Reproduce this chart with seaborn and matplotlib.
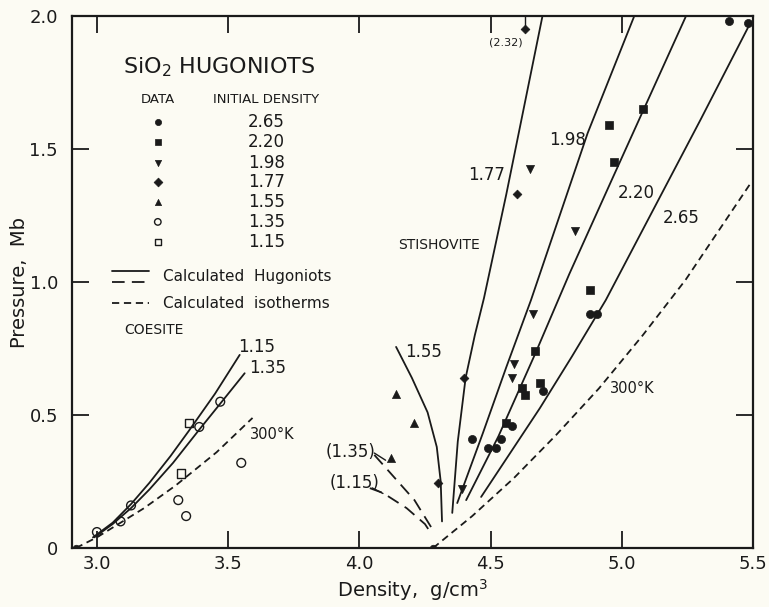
# =========================================
# SiO2 HUGONIOTS - PRESSURE VS DENSITY
# =========================================

import numpy as np
import matplotlib
matplotlib.use("Agg")
import matplotlib.pyplot as plt
import seaborn as sns


# =========================================
# DATA
# =========================================

# measured Hugoniot points, by initial density
rho_265 = [5.41, 5.48, 4.88, 4.905, 4.43, 4.49, 4.52, 4.54, 4.70, 4.58]
p_265 = [1.98, 1.975, 0.88, 0.88, 0.41, 0.375, 0.375, 0.41, 0.59, 0.46]

rho_220 = [5.08, 4.95, 4.97, 4.88, 4.67, 4.62, 4.63, 4.69, 4.56]
p_220 = [1.65, 1.59, 1.45, 0.97, 0.74, 0.60, 0.575, 0.62, 0.47]

rho_198 = [4.65, 4.82, 4.66, 4.59, 4.58, 4.39]
p_198 = [1.425, 1.19, 0.88, 0.69, 0.64, 0.22]

rho_177 = [4.63, 4.60, 4.40, 4.30]
p_177 = [1.95, 1.33, 0.64, 0.245]

rho_155 = [4.14, 4.21, 4.12]
p_155 = [0.58, 0.47, 0.34]

rho_135 = [3.47, 3.39, 3.55, 3.31, 3.34, 3.09, 3.13, 3.0]
p_135 = [0.55, 0.455, 0.32, 0.18, 0.12, 0.10, 0.16, 0.06]

rho_115 = [3.35, 3.32]
p_115 = [0.47, 0.28]

# zero pressure densities
rho_zero = [2.92, 4.28]
p_zero = [0.0, 0.0]

# calculated Hugoniots - coesite
coe_115_rho = [2.985, 3.06, 3.13, 3.20, 3.28, 3.35, 3.45, 3.544]
coe_115_p = [0.04, 0.095, 0.165, 0.245, 0.345, 0.44, 0.58, 0.726]
coe_135_rho = [2.99, 3.06, 3.13, 3.20, 3.29, 3.39, 3.48, 3.563]
coe_135_p = [0.04, 0.09, 0.15, 0.22, 0.32, 0.445, 0.555, 0.657]

# calculated isotherm - coesite
coe_iso_rho = [2.92, 3.0, 3.09, 3.18, 3.30, 3.456, 3.593]
coe_iso_p = [0.0, 0.04, 0.095, 0.15, 0.235, 0.36, 0.489]

# calculated Hugoniots - stishovite
sti_155_rho = [4.14, 4.20, 4.26, 4.295, 4.31, 4.315]
sti_155_p = [0.756, 0.64, 0.51, 0.38, 0.25, 0.10]
sti_135_rho = [4.057, 4.12, 4.21, 4.28]
sti_135_p = [0.35, 0.28, 0.18, 0.068]
sti_115_rho = [4.04, 4.09, 4.18, 4.25, 4.27]
sti_115_p = [0.225, 0.207, 0.15, 0.09, 0.06]
sti_177_rho = [4.354, 4.375, 4.405, 4.44, 4.475, 4.56, 4.697]
sti_177_p = [0.132, 0.40, 0.64, 0.80, 0.94, 1.33, 1.996]
sti_198_rho = [4.373, 4.47, 4.56, 4.654, 4.87, 5.046]
sti_198_p = [0.169, 0.43, 0.68, 0.932, 1.56, 1.996]
sti_220_rho = [4.407, 4.53, 4.67, 4.80, 4.96, 5.243]
sti_220_p = [0.18, 0.42, 0.73, 1.03, 1.38, 1.996]
sti_265_rho = [4.464, 4.57, 4.688, 4.81, 4.939, 5.103, 5.30, 5.49]
sti_265_p = [0.192, 0.35, 0.526, 0.72, 0.932, 1.24, 1.61, 1.974]

# calculated isotherm - stishovite
sti_iso_rho = [4.281, 4.43, 4.589, 4.75, 4.913, 5.08, 5.243, 5.494]
sti_iso_p = [0.0, 0.12, 0.263, 0.425, 0.60, 0.80, 1.008, 1.376]

# legend table
legend_markers = ["o", "s", "v", "D", "^", "o", "s"]
legend_filled = [True, True, True, True, True, False, False]
legend_labels = ["2.65", "2.20", "1.98", "1.77", "1.55", "1.35", "1.15"]

x_ticks = [3.0, 3.5, 4.0, 4.5, 5.0, 5.5]
x_tick_labels = ["3.0", "3.5", "4.0", "4.5", "5.0", "5.5"]
y_ticks = [0.0, 0.5, 1.0, 1.5, 2.0]
y_tick_labels = ["0", "0.5", "1.0", "1.5", "2.0"]


# =========================================
# STYLE
# =========================================

sns.set_style("ticks")
plt.rcParams["font.family"] = ["DejaVu Sans"]
plt.rcParams["text.color"] = "#1a1a1a"

BG = "#fcfbf3"
INK = "#1a1a1a"
LW = 1.3
ISO = (0, (4, 2.6))
LONG = (0, (7, 4))


# =========================================
# FIGURE
# =========================================

fig = plt.figure(figsize=(7.69, 6.07), dpi=100, facecolor=BG)
ax = fig.add_axes([0.0936, 0.0972, 0.8856, 0.8764])
ax.set_facecolor(BG)


def curve(xs, ys, style="-"):
    sns.lineplot(
        x=xs, y=ys, ax=ax, color=INK, linewidth=LW,
        linestyle=style, sort=False, estimator=None, legend=False
    )


def points(xs, ys, marker, filled=True, size=30):
    if filled:
        sns.scatterplot(
            x=xs, y=ys, ax=ax, marker=marker, s=size,
            color=INK, edgecolor=INK, linewidth=0.5, legend=False, zorder=5
        )
    else:
        sns.scatterplot(
            x=xs, y=ys, ax=ax, marker=marker, s=size,
            facecolor="none", edgecolor=INK, linewidth=1.0,
            legend=False, zorder=5
        )


# =========================================
# CURVES
# =========================================

curve(coe_115_rho, coe_115_p)
curve(coe_135_rho, coe_135_p)
curve(coe_iso_rho, coe_iso_p, ISO)

curve(sti_155_rho, sti_155_p)
curve(sti_135_rho, sti_135_p, LONG)
curve(sti_115_rho, sti_115_p, LONG)
curve(sti_177_rho, sti_177_p)
curve(sti_198_rho, sti_198_p)
curve(sti_220_rho, sti_220_p)
curve(sti_265_rho, sti_265_p)
curve(sti_iso_rho, sti_iso_p, ISO)


# =========================================
# DATA POINTS
# =========================================

points(rho_265, p_265, "o", size=34)
points(rho_220, p_220, "s", size=26)
points(rho_198, p_198, "v", size=34)
points(rho_177, p_177, "D", size=20)
points(rho_155, p_155, "^", size=34)
points(rho_135, p_135, "o", filled=False, size=40)
points(rho_115, p_115, "s", filled=False, size=34)
points(rho_zero, p_zero, "o", size=22)

# (2.32) point arrow to top
ax.plot([4.63, 4.63], [1.95, 2.0], color=INK, lw=1.0)


# =========================================
# LEGEND BLOCK
# =========================================

ax.text(3.099, 1.808, "SiO$_2$ HUGONIOTS", fontsize=16,
        ha="left", va="center")
ax.text(3.232, 1.688, "DATA", fontsize=9.5, ha="center", va="center")
ax.text(3.646, 1.688, "INITIAL DENSITY", fontsize=9.5, ha="center",
        va="center")

legend_y = [1.602, 1.526, 1.447, 1.376, 1.301, 1.226, 1.150]
for m, f, lab, yy in zip(legend_markers, legend_filled, legend_labels,
                         legend_y):
    points([3.232], [yy], m, filled=f, size=20 if f else 22)
    ax.text(3.646, yy, lab, fontsize=12, ha="center", va="center")

ax.plot([3.057, 3.20], [1.040, 1.040], color=INK, lw=LW)
ax.plot([3.057, 3.20], [1.000, 1.000], color=INK, lw=LW, linestyle=LONG)
ax.plot([3.057, 3.20], [0.921, 0.921], color=INK, lw=LW, linestyle=ISO)
ax.text(3.251, 1.019, "Calculated  Hugoniots", fontsize=11,
        ha="left", va="center")
ax.text(3.251, 0.921, "Calculated  isotherms", fontsize=11,
        ha="left", va="center")


# =========================================
# CURVE LABELS
# =========================================

ax.text(3.217, 0.82, "COESITE", fontsize=10, ha="center", va="center")
ax.text(4.304, 1.139, "STISHOVITE", fontsize=10, ha="center", va="center")

ax.text(3.608, 0.756, "1.15", fontsize=12, ha="center", va="center")
ax.text(3.650, 0.677, "1.35", fontsize=12, ha="center", va="center")
ax.text(3.669, 0.425, "300°K", fontsize=10.5, ha="center", va="center")

ax.text(3.966, 0.361, "(1.35)", fontsize=12, ha="center", va="center")
ax.text(3.981, 0.244, "(1.15)", fontsize=12, ha="center", va="center")
ax.plot([4.057, 4.10], [0.357, 0.330], color=INK, lw=1.0)
ax.plot([4.049, 4.09], [0.226, 0.205], color=INK, lw=1.0)

ax.text(4.243, 0.737, "1.55", fontsize=12, ha="center", va="center")
ax.text(4.483, 1.402, "1.77", fontsize=12, ha="center", va="center")
ax.text(4.795, 1.534, "1.98", fontsize=12, ha="center", va="center")
ax.text(5.057, 1.335, "2.20", fontsize=12, ha="center", va="center")
ax.text(5.228, 1.241, "2.65", fontsize=12, ha="center", va="center")
ax.text(5.038, 0.600, "300°K", fontsize=10.5, ha="center", va="center")
ax.text(4.559, 1.902, "(2.32)", fontsize=8, ha="center", va="center")


# =========================================
# AXES
# =========================================

ax.set_xlim(2.905, 5.5)
ax.set_ylim(0, 2.0)

ax.set_xticks(x_ticks)
ax.set_xticklabels(x_tick_labels)
ax.set_yticks(y_ticks)
ax.set_yticklabels(y_tick_labels)
ax.set_xticks([3.0, 4.0, 5.0], minor=True)
ax.set_yticks([1.0], minor=True)

ax.tick_params(which="major", direction="in", length=12, width=1.3,
               top=True, right=True, labelsize=13, colors=INK)
ax.tick_params(axis="x", which="major", pad=5)
ax.tick_params(axis="y", which="major", pad=10)
ax.tick_params(which="minor", direction="in", length=18, width=1.3,
               top=True, right=True)

for s in ax.spines.values():
    s.set_linewidth(1.6)
    s.set_color(INK)

ax.set_xlabel("Density,  g/cm$^3$", fontsize=14, labelpad=3, color=INK)
ax.set_ylabel("Pressure,  Mb", fontsize=14, labelpad=0, color=INK)

fig.savefig("out.png", dpi=100, facecolor=BG)
